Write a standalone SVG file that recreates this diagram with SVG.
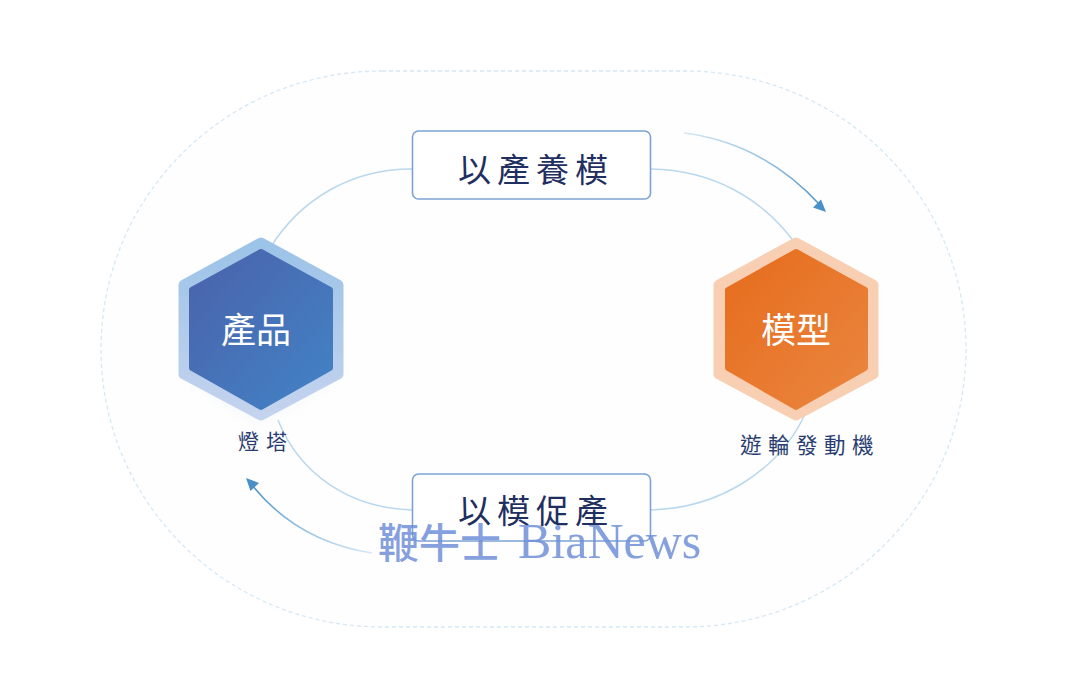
<svg xmlns="http://www.w3.org/2000/svg" width="1080" height="677" viewBox="0 0 1080 677">
<style>
.cjk{font-family:"Noto Sans CJK TC","Noto Sans CJK SC",sans-serif}
.box rect{fill:#fff;stroke:#7da3d4;stroke-width:1.6}
.box text{font-size:33px;letter-spacing:6px;fill:#1f2f60;text-anchor:middle}
.hex text{font-size:35px;fill:#fff;text-anchor:middle}
.cap{fill:#2a3d70;text-anchor:middle}
.link{fill:none;stroke:#b9d8ee;stroke-width:1.5}
</style>
<defs>
<linearGradient id="blue" x1="0" y1="0" x2="1" y2="1"><stop offset="0" stop-color="#4a62ab"/><stop offset="1" stop-color="#4283c6"/></linearGradient>
<linearGradient id="blueo" x1="0" y1="0" x2="0" y2="1"><stop offset="0" stop-color="#9cc3e8"/><stop offset="1" stop-color="#c4d3ee"/></linearGradient>
<linearGradient id="orange" x1="0" y1="0" x2="1" y2="1"><stop offset="0" stop-color="#e66c1c"/><stop offset="1" stop-color="#ea8640"/></linearGradient>
<linearGradient id="a1" x1="0" y1="0" x2="1" y2="1"><stop offset="0" stop-color="#d5e7f5"/><stop offset="1" stop-color="#4c94cc"/></linearGradient>
<linearGradient id="a2" x1="1" y1="1" x2="0" y2="0"><stop offset="0" stop-color="#d5e7f5"/><stop offset="1" stop-color="#4c94cc"/></linearGradient>
<filter id="soft" x="-30%" y="-30%" width="160%" height="160%"><feGaussianBlur stdDeviation="8"/></filter>
</defs>
<rect width="1080" height="677" fill="#fff"/>
<path d="M382 71H685C840 71 966 195 966 349C966 503 840 627 685 627H382C227 627 101 503 101 349C101 195 227 71 382 71Z" fill="#fefefe" stroke="#d5e8f6" stroke-width="1.3" stroke-dasharray="4 3"/>
<g id="connectors">
<path class="link" d="M270 248C300 200 350 169 412 169"/>
<path class="link" d="M651 169C712 170 762 198 795 243"/>
<path class="link" d="M278 420C300 475 350 508 412 510"/>
<path class="link" d="M651 510C720 508 780 470 806 412"/>
<path d="M684 133C740 140 785 167 820 205" fill="none" stroke="url(#a1)" stroke-width="1.6"/>
<polygon points="826,212 813,207.500 821,199.500" fill="#4a90c8"/>
<path d="M372 553C320 545 280 520 252 485" fill="none" stroke="url(#a2)" stroke-width="1.6"/>
<polygon points="246,478 259,483 250.500,491" fill="#4a90c8"/>
</g>
<g id="node-product" class="hex">
<polygon points="261,402 326,368 326,380 261,420 196,380 196,368" fill="#dfe5ee" filter="url(#soft)" opacity=".5"/>
<polygon points="261,243 338,285 338,374 261,415 184,374 184,285" fill="url(#blueo)" stroke="url(#blueo)" stroke-width="11" stroke-linejoin="round"/>
<polygon points="261,252 330,290 330,368 261,407 192,368 192,290" fill="url(#blue)" stroke="url(#blue)" stroke-width="6" stroke-linejoin="round"/>
<text class="cjk" x="256" y="343">產品</text>
</g>
<g id="node-model" class="hex">
<polygon points="796,243 873,285 873,374 796,415 719,374 719,285" fill="#f8cfb2" stroke="#f8cfb2" stroke-width="11" stroke-linejoin="round"/>
<polygon points="796,252 865,290 865,368 796,407 728,368 728,290" fill="url(#orange)" stroke="url(#orange)" stroke-width="6" stroke-linejoin="round"/>
<text class="cjk" x="796" y="343">模型</text>
</g>
<g id="node-top" class="box">
<rect x="412.500" y="131" width="238" height="68" rx="6"/>
<text class="cjk" x="536" y="182">以產養模</text>
</g>
<g id="node-bottom" class="box">
<rect x="412.500" y="474" width="238" height="67" rx="6"/>
<text class="cjk" x="536" y="523">以模促產</text>
</g>
<text class="cjk cap" x="266" y="449" font-size="21" letter-spacing="7">燈塔</text>
<text class="cjk cap" x="810" y="453" font-size="21.500" letter-spacing="6.500">遊輪發動機</text>
<text x="378" y="558" font-size="50" fill="#6f8fd8" fill-opacity=".85" font-family="'Liberation Serif','Noto Sans CJK TC',serif"><tspan font-family="'Noto Sans CJK TC',serif" font-size="41" font-weight="500">鞭牛士</tspan><tspan dx="17">BiaNews</tspan></text>
</svg>
